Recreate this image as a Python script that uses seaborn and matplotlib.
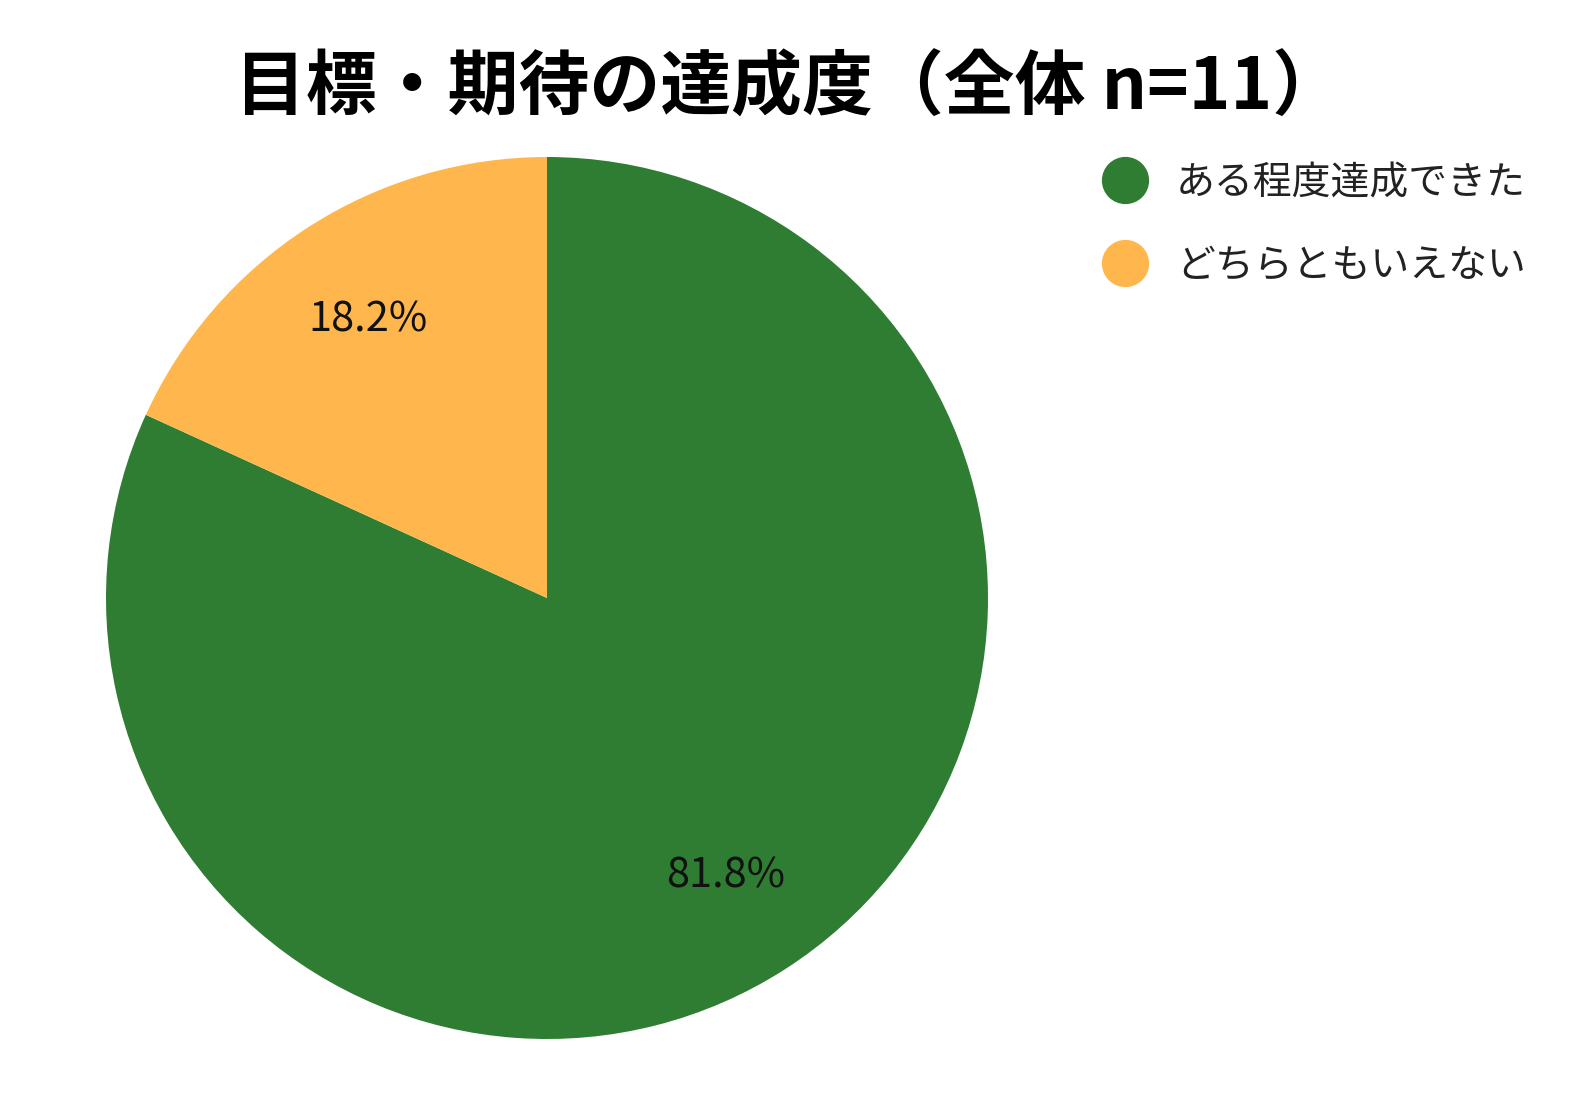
import matplotlib
matplotlib.use("Agg")
import matplotlib.pyplot as plt
from matplotlib.lines import Line2D
import seaborn as sns

categories = ["ある程度達成できた", "どちらともいえない"]
values = [9, 2]
colors = ["#2E7D32", "#FFB74D"]
title = "目標・期待の達成度（全体 n=11）"

sns.set_theme(style="white")
plt.rcParams['font.family'] = ['Noto Sans CJK JP', 'DejaVu Sans']

W, H = 1576, 1094
cx, cy, r = 547, 598, 441
fig = plt.figure(figsize=(W / 100, H / 100), dpi=100)
ax = fig.add_axes([(cx - r) / W, (H - cy - r) / H, 2 * r / W, 2 * r / H])
wedges, texts, autotexts = ax.pie(
    values, colors=colors, startangle=90, counterclock=False,
    autopct="%1.1f%%", pctdistance=0.75, radius=1,
    textprops=dict(fontsize=30, color="#111111"),
    wedgeprops=dict(linewidth=0),
)
ax.set_xlim(-1, 1)
ax.set_ylim(-1, 1)
ax.set_aspect("equal")
ax.axis("off")

fig.text(789 / W, 1 - 89 / H, title, ha="center", va="center",
         fontsize=51, fontweight="bold", color="black")

handles = [Line2D([0], [0], marker="o", linestyle="", markersize=33,
                  markerfacecolor=c, markeredgecolor=c) for c in colors]
fig.legend(handles, categories, loc="upper left",
           bbox_to_anchor=(1104 / W, 1 - 163 / H), frameon=False,
           fontsize=28, handlelength=1.1, handletextpad=0.75,
           labelspacing=1.1, borderpad=0, borderaxespad=0,
           labelcolor="#222222")

fig.savefig("out.png", dpi=100)
